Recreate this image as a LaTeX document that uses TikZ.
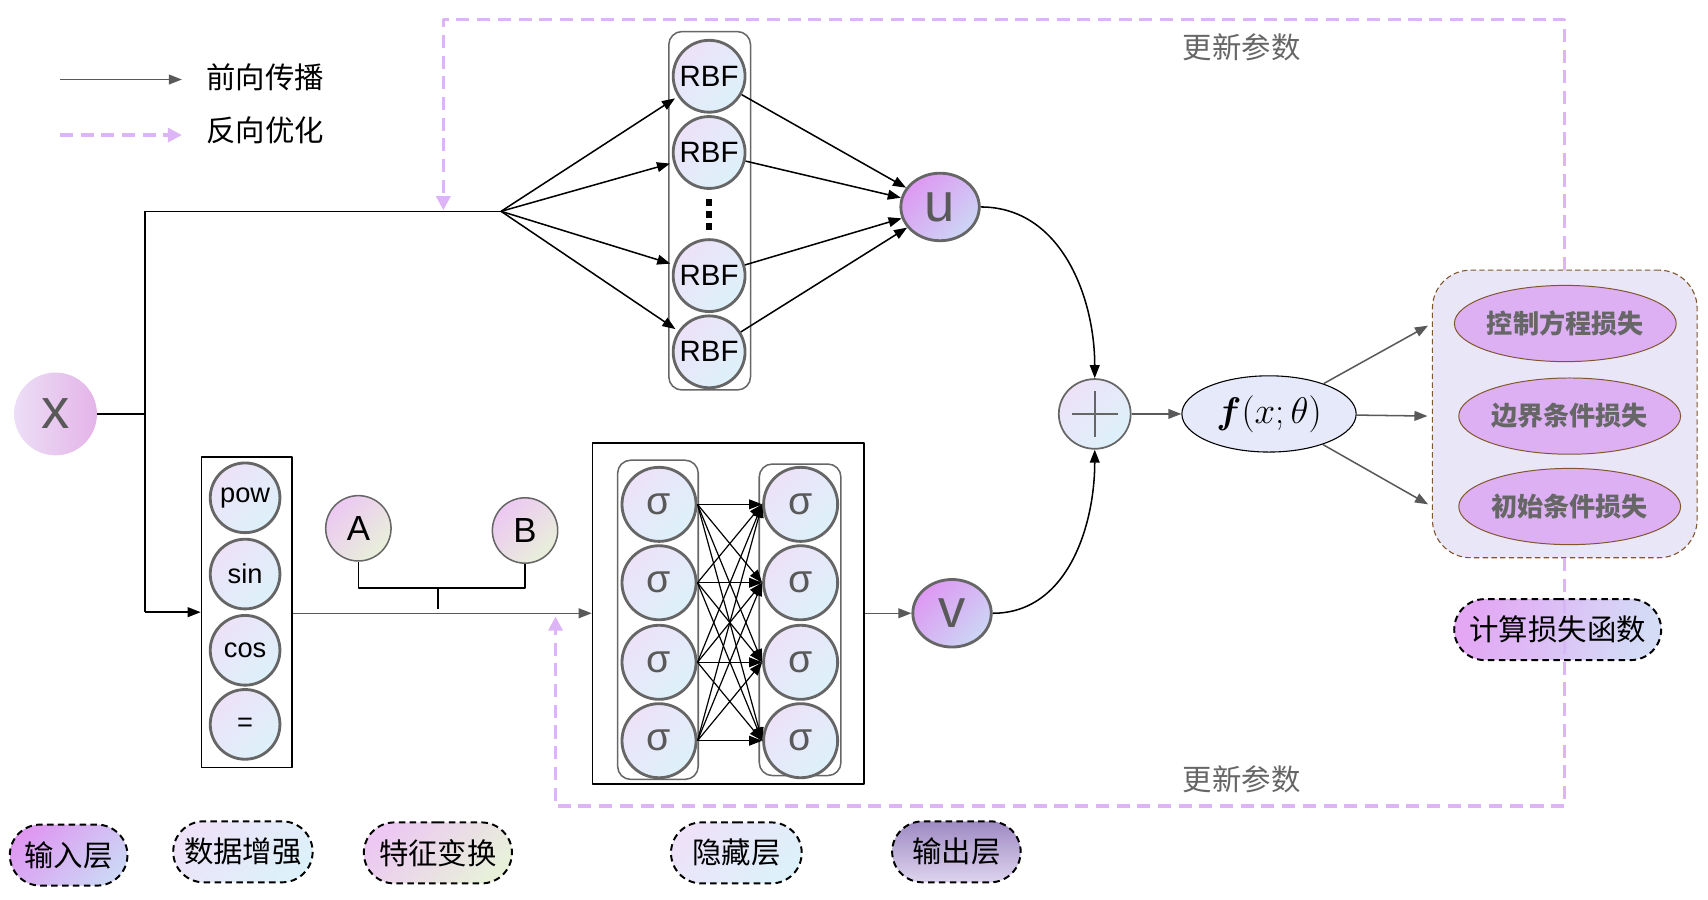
\RequirePackage{fix-cm}
\documentclass[tikz,border=0pt]{standalone}
\usepackage{amsmath}
\usepackage{fontspec}
\setmainfont{Liberation Sans}
\newfontfamily\zh{Noto Sans CJK SC}
\usetikzlibrary{arrows.meta,shapes.geometric,shapes.misc,positioning}

\definecolor{lav}{RGB}{237,226,248}
\definecolor{skyb}{RGB}{221,241,250}
\definecolor{ngray}{RGB}{102,102,102}
\definecolor{dgray}{RGB}{89,89,89}
\definecolor{lilac}{RGB}{221,180,245}
\definecolor{xleft}{RGB}{236,222,246}
\definecolor{xright}{RGB}{228,180,232}
\definecolor{uvtop}{RGB}{222,152,242}
\definecolor{uvbot}{RGB}{204,214,245}
\definecolor{abtop}{RGB}{236,200,242}
\definecolor{abbot}{RGB}{232,240,218}
\definecolor{ffill}{RGB}{230,233,250}
\definecolor{lossbg}{RGB}{233,230,248}
\definecolor{lossfill}{RGB}{220,176,242}
\definecolor{brownl}{RGB}{130,85,45}
\definecolor{outtop}{RGB}{158,138,195}
\definecolor{outbot}{RGB}{222,212,238}

\newcommand{\fsz}[1]{\fontsize{#1}{#1}\selectfont}

\tikzset{
  wire/.style={line width=1.4},
  gwire/.style={draw=dgray, line width=1.4},
  back/.style={draw=lilac, line width=3, dash pattern=on 12pt off 7pt,
    -{Triangle[length=13pt,width=13pt,fill=lilac]}},
  neuron/.style={circle, draw=ngray, line width=2.6, inner sep=0, minimum size=66,
    top color=lav, bottom color=skyb, shading angle=45, font=\fsz{27}},
  sig/.style={minimum size=68, text=dgray, font=\fsz{36}},
  outnode/.style={ellipse, draw=ngray, line width=2.6, inner sep=0, minimum width=72,
    minimum height=62, top color=uvtop, bottom color=uvbot, shading angle=45,
    text=dgray, font=\fsz{50}},
  featnode/.style={circle, draw=ngray, line width=1.4, inner sep=0, minimum size=60,
    top color=abtop, bottom color=abbot, shading angle=45, font=\fsz{32}},
  plainbox/.style={rectangle, draw, line width=1.5, inner sep=0},
  colbox/.style={rectangle, draw=ngray, line width=1.4, rounded corners=12, inner sep=0},
  lossitem/.style={ellipse, draw=brownl, line width=0.9, fill=lossfill, inner sep=0,
    minimum width=194, minimum height=70, text=ngray, font=\zh\bfseries\fsz{24}},
  pill/.style={rounded rectangle, draw, line width=1.8, dash pattern=on 6pt off 4pt,
    inner sep=0, minimum height=56, font=\zh\fsz{27}},
  note/.style={text=ngray, font=\zh\fsz{27}}
}

\begin{document}
\begin{tikzpicture}[x=1pt, y=-1pt, line join=round, >={Triangle[length=12pt,width=9pt]}]
\useasboundingbox (0,0) rectangle (1568,826);

% legend
\coordinate (lg1a) at (55,73);
\coordinate (lg1b) at (167,73);
\coordinate (lg2a) at (55,124);
\coordinate (lg2b) at (167,124);
\draw[gwire,->] (lg1a) -- (lg1b);
\draw[back] (lg2a) -- (lg2b);
\node[anchor=west, font=\zh\fsz{27}] (lgfwd) at (186,71) {前向传播};
\node[anchor=west, font=\zh\fsz{27}] (lgback) at (186,120) {反向优化};

% input and split
\node[circle, inner sep=0, minimum size=76, left color=xleft, right color=xright,
  text=dgray, font=\fsz{52}] (x) at (51,380) {x};
\coordinate (split) at (133,380);
\coordinate (ctop) at (133,194);
\coordinate (cbot) at (133,562);
\coordinate (fan) at (460,194);
\draw[wire] (x) -- (split);
\draw[wire] (ctop) -- (cbot);
\draw[wire] (ctop) -- (fan);

% RBF branch
\node[colbox, minimum width=75, minimum height=329] (rbfbox) at (651.5,193.5) {};
\foreach \y/\n in {70/1,140/2,253/3,323/4}
  \node[neuron] (r\n) at (651,\y) {RBF};
\foreach \y in {183,194,205}
  \fill (648,\y) rectangle (654,\y+6);
\node[outnode] (u) at (863,190) {u};
\foreach \n in {1,...,4} {
  \draw[wire,->,shorten >=3pt] (fan) -- (r\n);
  \draw[wire,->] (r\n) -- (u);
}

% feature branch
\node[plainbox, minimum width=83, minimum height=285] (aug) at (226.5,562) {};
\foreach \y/\n/\t in {457/1/pow,527/2/sin,597/3/cos,665/4/{=}}
  \node[neuron, minimum size=64, font=\fsz{25}] (a\n) at (225,\y) {\t};
\draw[wire,->] (cbot) -- (aug);
\node[featnode] (A) at (329,485) {A};
\node[featnode] (B) at (482,487) {B};
\coordinate (tee) at (402,540);
\draw[wire] (A) |- (tee) -| (B);
\draw[wire] (tee) -- ([yshift=3]tee |- aug.east);

% hidden layers
\node[plainbox, minimum width=249, minimum height=313] (hid) at (668.5,563) {};
\node[colbox, minimum width=74, minimum height=293] (hcl) at (604,569) {};
\node[colbox, minimum width=75, minimum height=286] (hcr) at (734.5,569) {};
\foreach \y [count=\n] in {463,535,608,680} {
  \node[neuron, sig] (hl\n) at (605,\y) {σ};
  \node[neuron, sig] (hr\n) at (735,\y) {σ};
}
\foreach \i in {1,...,4}
  \foreach \j in {1,...,4}
    \draw[wire, line width=1.1, ->] (hl\i.east) -- (hr\j.west);
\draw[gwire,->] (aug.east |- hid.west) -- (hid);
\node[outnode] (v) at (874,563) {v};
\draw[gwire,->] (hid) -- (v);

% output
\node[ellipse, draw=ngray, line width=1.6, inner sep=0, minimum width=66, minimum height=64,
  top color=lav, bottom color=skyb, shading angle=45] (plus) at (1005,380) {};
\draw[ngray, line width=1.4] ([xshift=-21]plus.center) -- ([xshift=21]plus.center);
\draw[ngray, line width=1.4] ([yshift=-21]plus.center) -- ([yshift=21]plus.center);
\draw[wire,->] (u.east) to[out=0, in=90] (plus.north);
\draw[wire,->] (v.east) to[out=0, in=-90] (plus.south);
\node[ellipse, draw, line width=1, fill=ffill, inner sep=0, minimum width=160,
  minimum height=70, font=\fsz{34}] (f) at (1165,380) {$\boldsymbol{f}(x;\theta)$};
\draw[gwire,->] (plus) -- (f);

% losses
\node[rectangle, draw=brownl, line width=1, dash pattern=on 5pt off 3pt, rounded corners=35,
  fill=lossbg, minimum width=243, minimum height=264] (loss) at (1436.5,380) {};
\node[lossitem] (l1) at (1437,297) {控制方程损失};
\node[lossitem] (l2) at (1441,382) {边界条件损失};
\node[lossitem] (l3) at (1441,465) {初始条件损失};
\draw[gwire,->,shorten >=4pt] (f) -- (loss.west |- l1);
\draw[gwire,->,shorten >=4pt] (f) -- (loss.west |- l2);
\draw[gwire,->,shorten >=4pt] (f) -- (loss.west |- l3);

% feedback
\coordinate (tturn) at (1436.5,18);
\coordinate (ttip) at (407,193);
\coordinate (bturn) at (1436.5,740);
\coordinate (btip) at (510,566);
\draw[back] (loss.north) -- (tturn) -| (ttip);
\draw[back] (loss.south) -- (bturn) -| (btip);
\node[note] (upd1) at (1140,43) {更新参数};
\node[note] (upd2) at (1140,715) {更新参数};
\node[pill, minimum width=190, left color=uvtop, right color=uvbot, shading angle=70,
  fill opacity=0.85, text opacity=1] (calc) at (1430,578) {计算损失函数};

% legend pills
\node[pill, minimum width=108, top color=uvtop, bottom color=uvbot, shading angle=45] (leg1) at (63,785) {输入层};
\node[pill, minimum width=128, top color=lav, bottom color=skyb, shading angle=45] (leg2) at (223,782) {数据增强};
\node[pill, minimum width=136, top color=abtop, bottom color=abbot, shading angle=45] (leg3) at (402,783) {特征变换};
\node[pill, minimum width=120, top color=lav, bottom color=skyb, shading angle=45] (leg4) at (676,783) {隐藏层};
\node[pill, minimum width=118, top color=outtop, bottom color=outbot] (leg5) at (878,782) {输出层};
\end{tikzpicture}
\end{document}
